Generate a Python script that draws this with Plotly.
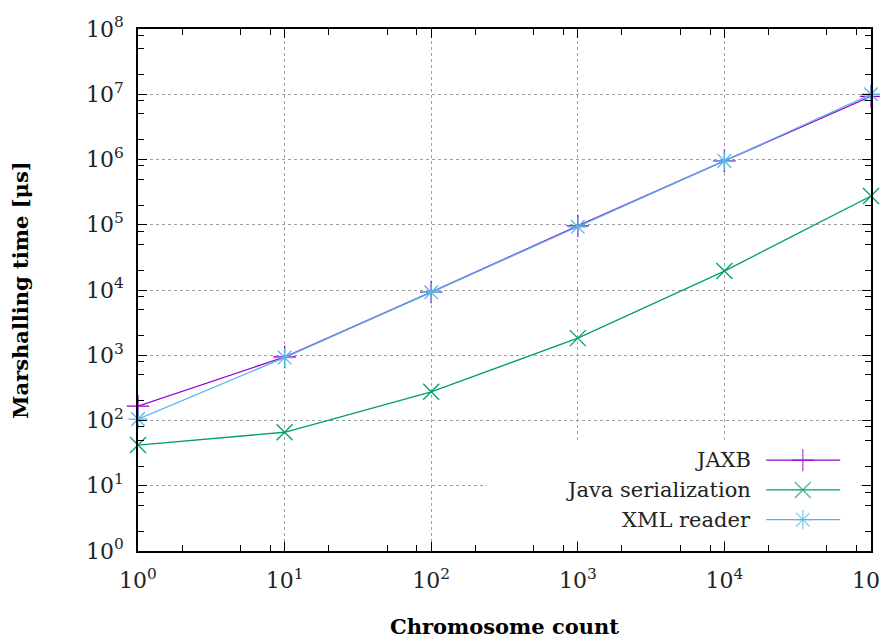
import plotly.graph_objects as go

# ---- data ----
chromosome_count = [1, 10, 100, 1000, 10000, 100000]
jaxb = [166, 940, 9300, 96000, 950000, 9.3e6]
java_serialization = [42, 66, 275, 1830, 19500, 275000]
xml_reader = [105, 920, 9200, 93000, 950000, 1.0e7]

series_names = ["JAXB", "Java serialization", "XML reader"]
series_colors = ["#9400d3", "#009e73", "#56b4e9"]
series_symbols = ["cross-thin", "x-thin", "asterisk-open"]

x_tickvals = [1, 10, 100, 1000, 10000, 100000]
x_ticktext = ["10<sup>0</sup>", "10<sup>1</sup>", "10<sup>2</sup>", "10<sup>3</sup>", "10<sup>4</sup>", "10<sup>5</sup>"]
y_tickvals = [1, 10, 100, 1000, 1e4, 1e5, 1e6, 1e7, 1e8]
y_ticktext = ["10<sup>%d</sup>" % i for i in range(9)]
minor_mantissas = [2, 5, 8]

FONT = "DejaVu Serif"
X_DECADES = 5
Y_DECADES = 8


def xfrac(f):
    return 10 ** (f * X_DECADES)


def yfrac(f):
    return 10 ** (f * Y_DECADES)


x_minor = [m * 10 ** d for d in range(X_DECADES) for m in minor_mantissas]
y_minor = [m * 10 ** d for d in range(Y_DECADES) for m in minor_mantissas]

fig = go.Figure()
all_series = [jaxb, java_serialization, xml_reader]
for name, vals, col, sym in zip(series_names, all_series, series_colors, series_symbols):
    fig.add_trace(go.Scatter(
        x=chromosome_count, y=vals, mode="lines+markers", name=name,
        line=dict(color=col, width=1.3),
        marker=dict(symbol=sym, size=16, color=col, line=dict(color=col, width=1.3)),
        cliponaxis=False, showlegend=False,
    ))

# custom gnuplot-style key: text right-aligned, then line sample with marker
# (drawn on the overlay axes that also carry the minor ticks)
key_rows = [0.174, 0.117, 0.060]          # fraction of plot height
key_sample = [0.857, 0.907, 0.958]        # fraction of plot width
for name, col, sym, ky in zip(series_names, series_colors, series_symbols, key_rows):
    fig.add_trace(go.Scatter(
        x=[xfrac(f) for f in key_sample],
        y=[yfrac(ky)] * 3, xaxis="x2", yaxis="y2",
        mode="lines+markers", line=dict(color=col, width=1.3),
        marker=dict(symbol=sym, size=[0, 16, 0], color=col, line=dict(color=col, width=1.3)),
        showlegend=False, hoverinfo="skip", cliponaxis=False,
    ))
    fig.add_annotation(x=0.839, y=ky, xref="x domain", yref="y domain", text=name, showarrow=False,
                       xanchor="right", yanchor="middle",
                       font=dict(family=FONT, size=21, color="#222"))

fig.add_shape(type="rect", xref="x", yref="y", x0=xfrac(0.476), x1=xfrac(0.985),
              y0=yfrac(0.02), y1=yfrac(0.213),
              fillcolor="white", line=dict(width=0), layer="between")

axis_common = dict(
    showline=True, linecolor="black", linewidth=1.5, mirror="allticks",
    ticks="inside", ticklen=9, tickwidth=1.3, tickcolor="black",
    showgrid=True, gridcolor="#a0a0a0", griddash="dot", gridwidth=1,
    zeroline=False, automargin=False, ticklabeloverflow="allow",
    tickfont=dict(family=FONT, size=22, color="#222"),
)

minor_common = dict(
    showline=False, showgrid=False, zeroline=False, showticklabels=False,
    ticks="inside", ticklen=6, tickwidth=1.1, tickcolor="black",
    mirror="allticks", automargin=False, fixedrange=True,
)

# page body adds an 8px offset, so the figure is slightly smaller
fig.update_layout(
    width=880, height=631,
    margin=dict(l=130, r=17, t=21, b=88),
    plot_bgcolor="white", paper_bgcolor="white",
    xaxis=dict(type="log", range=[0, X_DECADES], tickvals=x_tickvals, ticktext=x_ticktext,
               ticklabelstandoff=9,
               title=dict(text="<b>Chromosome count</b>", font=dict(family=FONT, size=21, color="black"), standoff=29),
               **axis_common),
    yaxis=dict(type="log", range=[0, Y_DECADES], tickvals=y_tickvals, ticktext=y_ticktext,
               ticklabelstandoff=8,
               title=dict(text="<b>Marshalling time [μs]</b>", font=dict(family=FONT, size=21, color="black"), standoff=52),
               **axis_common),
    xaxis2=dict(type="log", range=[0, X_DECADES], overlaying="x", side="bottom", tickvals=x_minor, **minor_common),
    yaxis2=dict(type="log", range=[0, Y_DECADES], overlaying="y", side="left", tickvals=y_minor, **minor_common),
    showlegend=False,
)

fig.write_html("out.html")
